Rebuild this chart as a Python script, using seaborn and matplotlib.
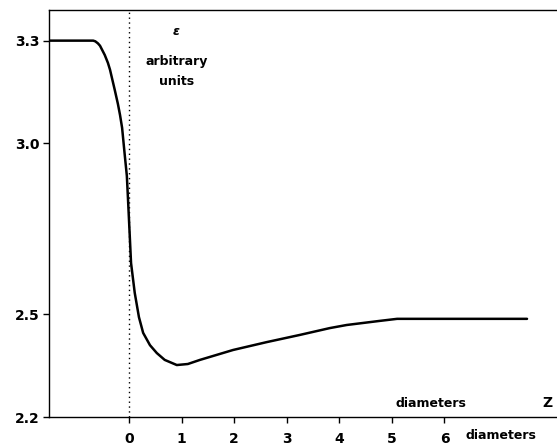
import numpy as np
import pandas as pd
import seaborn as sns
import matplotlib.pyplot as plt

# profile of epsilon along the axis
z_diam = [-1.52, -0.68, -0.64, -0.59, -0.55, -0.51, -0.46, -0.40, -0.36, -0.27,
          -0.21, -0.17, -0.13, -0.08, -0.04, -0.02, 0.01, 0.04, 0.11, 0.19, 0.27,
          0.40, 0.53, 0.68, 0.91, 1.12, 1.35, 1.98, 2.62, 3.25, 3.82, 4.14, 4.77,
          5.10, 6.00, 7.57]
eps = [3.30, 3.30, 3.298, 3.292, 3.285, 3.273, 3.258, 3.235, 3.215, 3.156,
       3.115, 3.083, 3.045, 2.966, 2.905, 2.843, 2.747, 2.650, 2.563, 2.492, 2.446,
       2.410, 2.387, 2.367, 2.352, 2.355, 2.367, 2.396, 2.419, 2.440, 2.460, 2.469,
       2.481, 2.487, 2.487, 2.487]
x_ticks = [0, 1, 2, 3, 4, 5, 6]
y_ticks = [2.2, 2.5, 3.0, 3.3]
y_labels = ['2.2', '2.5', '3.0', '3.3']

df = pd.DataFrame({'z': z_diam, 'eps': eps})

sns.set_style('ticks')
plt.rcParams['font.family'] = ['DejaVu Sans']
plt.rcParams['text.color'] = 'black'

fig = plt.figure(figsize=(5.57, 4.47), dpi=100)
ax = fig.add_axes([0.088, 0.067, 0.912, 0.911])

sns.lineplot(data=df, x='z', y='eps', ax=ax, color='black', linewidth=1.8, sort=False)
ax.axvline(0, color='black', linestyle=(0, (1, 2.5)), linewidth=1)

ax.set_xlim(-1.52, 8.14)
ax.set_ylim(2.2, 3.39)
ax.set_xticks(x_ticks)
ax.set_xticklabels([str(t) for t in x_ticks], fontweight='bold', fontsize=10)
ax.set_yticks(y_ticks)
ax.set_yticklabels(y_labels, fontweight='bold', fontsize=10)
ax.tick_params(axis='both', direction='out', length=4, width=1, color='black',
               labelcolor='black')
ax.tick_params(axis='x', pad=7)
ax.tick_params(axis='y', pad=3)
ax.set_xlabel('')
ax.set_ylabel('')

for side in ['left', 'bottom', 'top']:
    ax.spines[side].set_visible(True)
    ax.spines[side].set_color('black')
    ax.spines[side].set_linewidth(1)
ax.spines['right'].set_visible(False)

# annotations
ax.text(0.9, 3.326, '\u03b5', fontsize=9, fontweight='bold', ha='center', va='center',
        style='italic', color='black')
ax.text(0.9, 3.238, 'arbitrary', fontsize=9, fontweight='bold', ha='center', va='center', color='black')
ax.text(0.9, 3.18, 'units', fontsize=9, fontweight='bold', ha='center', va='center', color='black')
ax.text(5.75, 2.24, 'diameters', fontsize=9, fontweight='bold', ha='center', va='center', color='black')
ax.text(7.95, 2.24, 'Z', fontsize=10, fontweight='bold', ha='center', va='center', color='black')
ax.text(0.89, -0.045, 'diameters', transform=ax.transAxes, fontsize=9, fontweight='bold',
        ha='center', va='center', color='black')

fig.savefig('out.png', dpi=100)
